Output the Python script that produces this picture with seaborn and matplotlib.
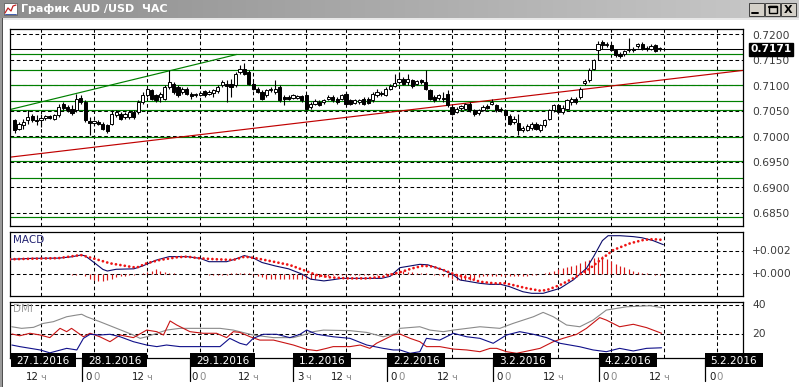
import numpy as np
import pandas as pd
import matplotlib
matplotlib.use("Agg")
import matplotlib.pyplot as plt
import seaborn as sns
from matplotlib.patches import Rectangle
from matplotlib.colors import LinearSegmentedColormap
from matplotlib.transforms import offset_copy

# ---------------- data (hourly AUD/USD candles, bar index 0..146) ----------------
open_ = [0.70318, 0.70155, 0.70220, 0.70318, 0.70396, 0.70331, 0.70318, 0.70370, 0.70396, 0.70350,
         0.70415, 0.70644, 0.70578, 0.70546, 0.70513, 0.70754, 0.70676, 0.70298, 0.70272, 0.70285,
         0.70252, 0.70220, 0.70252, 0.70415, 0.70448, 0.70383, 0.70383, 0.70481, 0.70481, 0.70676,
         0.70807, 0.70904, 0.70807, 0.70774, 0.70741, 0.70970, 0.71035, 0.70970, 0.70872, 0.70937,
         0.70839, 0.70813, 0.70820, 0.70885, 0.70839, 0.70859, 0.70885, 0.71002, 0.71035, 0.71035,
         0.71002, 0.71263, 0.71328, 0.71263, 0.71035, 0.70937, 0.70872, 0.70807, 0.70904, 0.70872,
         0.70970, 0.70774, 0.70774, 0.70754, 0.70754, 0.70794, 0.70807, 0.70578, 0.70644, 0.70676,
         0.70676, 0.70741, 0.70774, 0.70741, 0.70742, 0.70840, 0.70710, 0.70657, 0.70677, 0.70742,
         0.70742, 0.70710, 0.70807, 0.70853, 0.70807, 0.70938, 0.70983, 0.71068, 0.71133, 0.71068,
         0.71101, 0.71036, 0.71114, 0.71068, 0.70918, 0.70775, 0.70762, 0.70762, 0.70840, 0.70579,
         0.70481, 0.70566, 0.70547, 0.70644, 0.70514, 0.70462, 0.70527, 0.70592, 0.70644, 0.70612,
         0.70547, 0.70514, 0.70396, 0.70285, 0.70265, 0.70122, 0.70135, 0.70174, 0.70252, 0.70122,
         0.70220, 0.70350, 0.70513, 0.70611, 0.70481, 0.70546, 0.70676, 0.70741, 0.70774, 0.71048,
         0.71100, 0.71328, 0.71687, 0.71850, 0.71791, 0.71785, 0.71687, 0.71609, 0.71609, 0.71700,
         0.71713, 0.71765, 0.71817, 0.71732, 0.71719, 0.71785, 0.71739]
high = [0.70350, 0.70285, 0.70350, 0.70513, 0.70448, 0.70415, 0.70448, 0.70429, 0.70429, 0.70448,
        0.70644, 0.70676, 0.70611, 0.70611, 0.70839, 0.70807, 0.70709, 0.70383, 0.70318, 0.70318,
        0.70285, 0.70252, 0.70513, 0.70513, 0.70481, 0.70481, 0.70513, 0.70513, 0.70709, 0.70872,
        0.70970, 0.70937, 0.70839, 0.70872, 0.71002, 0.71296, 0.71067, 0.71002, 0.70970, 0.70970,
        0.70872, 0.70859, 0.70885, 0.70904, 0.70904, 0.70937, 0.71002, 0.71100, 0.71100, 0.71133,
        0.71263, 0.71406, 0.71446, 0.71296, 0.71067, 0.70970, 0.70904, 0.70937, 0.70970, 0.71100,
        0.71002, 0.70807, 0.70807, 0.70839, 0.70820, 0.70820, 0.70839, 0.70676, 0.70741, 0.70709,
        0.70741, 0.70807, 0.70807, 0.70774, 0.70840, 0.70873, 0.70742, 0.70742, 0.70742, 0.70775,
        0.70775, 0.70873, 0.70938, 0.70892, 0.70970, 0.71036, 0.71231, 0.71264, 0.71166, 0.71231,
        0.71133, 0.71114, 0.71133, 0.71309, 0.70938, 0.70807, 0.70840, 0.70873, 0.70905, 0.70612,
        0.70579, 0.70612, 0.70657, 0.70677, 0.70547, 0.70547, 0.70612, 0.70644, 0.70742, 0.70644,
        0.70579, 0.70547, 0.70448, 0.70396, 0.70448, 0.70200, 0.70239, 0.70285, 0.70285, 0.70252,
        0.70350, 0.70546, 0.70644, 0.70644, 0.70611, 0.70741, 0.70774, 0.70774, 0.70970, 0.71133,
        0.71348, 0.71524, 0.71882, 0.71895, 0.71850, 0.71830, 0.71719, 0.71654, 0.71700, 0.71935,
        0.71752, 0.71830, 0.71850, 0.71765, 0.71804, 0.71817, 0.71752]
low = [0.70076, 0.70122, 0.70155, 0.70252, 0.70285, 0.70220, 0.70187, 0.70318, 0.70337, 0.70318,
       0.70383, 0.70513, 0.70481, 0.70415, 0.70481, 0.70644, 0.70285, 0.70024, 0.70220, 0.70220,
       0.70122, 0.70076, 0.70220, 0.70383, 0.70318, 0.70350, 0.70350, 0.70350, 0.70448, 0.70644,
       0.70774, 0.70709, 0.70676, 0.70676, 0.70709, 0.70937, 0.70839, 0.70774, 0.70839, 0.70807,
       0.70741, 0.70774, 0.70794, 0.70774, 0.70807, 0.70774, 0.70859, 0.70970, 0.70676, 0.70774,
       0.70970, 0.71230, 0.71198, 0.71002, 0.70904, 0.70859, 0.70709, 0.70774, 0.70872, 0.70839,
       0.70676, 0.70611, 0.70709, 0.70728, 0.70728, 0.70676, 0.70513, 0.70546, 0.70611, 0.70598,
       0.70644, 0.70709, 0.70676, 0.70644, 0.70710, 0.70612, 0.70625, 0.70631, 0.70644, 0.70625,
       0.70631, 0.70677, 0.70775, 0.70788, 0.70788, 0.70905, 0.70970, 0.71036, 0.71003, 0.71003,
       0.70957, 0.71003, 0.71036, 0.70905, 0.70710, 0.70677, 0.70723, 0.70677, 0.70579, 0.70416,
       0.70462, 0.70527, 0.70514, 0.70481, 0.70397, 0.70416, 0.70501, 0.70547, 0.70612, 0.70481,
       0.70481, 0.70384, 0.70220, 0.70239, 0.70024, 0.70089, 0.70109, 0.70135, 0.70122, 0.70089,
       0.70187, 0.70318, 0.70481, 0.70448, 0.70448, 0.70513, 0.70611, 0.70631, 0.70741, 0.71002,
       0.71067, 0.71296, 0.71491, 0.71719, 0.71752, 0.71674, 0.71556, 0.71543, 0.71569, 0.71654,
       0.71654, 0.71739, 0.71687, 0.71674, 0.71687, 0.71654, 0.71674]
close = [0.70122, 0.70252, 0.70285, 0.70383, 0.70318, 0.70305, 0.70363, 0.70396, 0.70370, 0.70415,
         0.70578, 0.70559, 0.70513, 0.70468, 0.70741, 0.70676, 0.70318, 0.70272, 0.70298, 0.70239,
         0.70155, 0.70102, 0.70448, 0.70481, 0.70350, 0.70448, 0.70481, 0.70383, 0.70676, 0.70807,
         0.70937, 0.70741, 0.70709, 0.70839, 0.70970, 0.71067, 0.70872, 0.70807, 0.70937, 0.70839,
         0.70794, 0.70833, 0.70852, 0.70807, 0.70872, 0.70904, 0.70970, 0.71067, 0.70989, 0.70970,
         0.71230, 0.71328, 0.71230, 0.71035, 0.70937, 0.70872, 0.70741, 0.70904, 0.70937, 0.70937,
         0.70709, 0.70741, 0.70741, 0.70807, 0.70794, 0.70709, 0.70546, 0.70644, 0.70689, 0.70624,
         0.70709, 0.70774, 0.70709, 0.70676, 0.70807, 0.70644, 0.70644, 0.70710, 0.70723, 0.70644,
         0.70657, 0.70840, 0.70873, 0.70827, 0.70938, 0.70983, 0.71049, 0.71133, 0.71036, 0.71133,
         0.70983, 0.71088, 0.71068, 0.70938, 0.70742, 0.70723, 0.70807, 0.70736, 0.70612, 0.70449,
         0.70547, 0.70592, 0.70631, 0.70514, 0.70449, 0.70514, 0.70579, 0.70566, 0.70677, 0.70514,
         0.70514, 0.70416, 0.70252, 0.70350, 0.70122, 0.70168, 0.70200, 0.70252, 0.70155, 0.70220,
         0.70318, 0.70513, 0.70611, 0.70481, 0.70565, 0.70709, 0.70741, 0.70676, 0.70937, 0.71087,
         0.71309, 0.71504, 0.71817, 0.71785, 0.71817, 0.71700, 0.71589, 0.71569, 0.71674, 0.71719,
         0.71687, 0.71804, 0.71719, 0.71706, 0.71765, 0.71674, 0.71710]

last_price = 0.7171
level_lines = [0.71609, 0.71306, 0.71003, 0.70696, 0.70528, 0.69996, 0.69517, 0.69179, 0.68422]
price_ticks = [0.7200, 0.7150, 0.7100, 0.7050, 0.7000, 0.6950, 0.6900, 0.6850]
green_trend_bar = [-0.8, 50.3]
green_trend_price = [0.70533, 0.71609]
red_trend_bar = [-1.0, 164.8]
red_trend_price = [0.69595, 0.71296]

macd_bar = [-1, 4, 10, 13, 15, 16, 18, 20, 21, 23, 27, 29, 32, 35, 39, 42, 44, 48, 50, 52, 54, 56,
            59, 62, 65, 67, 70, 72, 74, 83, 85, 87.2, 91.7, 93.5, 97, 99.3, 100.8, 105.3, 107.6,
            110, 112, 115, 117, 119.6, 123.4, 126.4, 129.4, 131, 133, 134.3, 137, 140, 142, 144.5, 146.8]
macd_val = [0.00128, 0.00136, 0.00138, 0.00150, 0.00165, 0.00158, 0.00100, 0.00040, 0.00026, 0.00041,
            0.00045, 0.00070, 0.00120, 0.00151, 0.00151, 0.00136, 0.00107, 0.00107, 0.00130, 0.00160,
            0.00140, 0.00100, 0.00070, 0.00045, 0.00000, -0.00045, -0.00060, -0.00050, -0.00038,
            -0.00038, -0.00020, 0.00055, 0.00084, 0.00080, 0.00035, -0.00009, -0.00052, -0.00081,
            -0.00090, -0.00090, -0.00110, -0.00154, -0.00168, -0.00168, -0.00125, -0.00052, 0.00049,
            0.00150, 0.00290, 0.00333, 0.00333, 0.00325, 0.00315, 0.00290, 0.00255]
signal_bar = [-1, 4, 10, 15, 17.8, 21.6, 26.1, 27.6, 29.9, 32.9, 36.7, 39, 42, 45.7, 49.5, 52.1, 54.8,
              58.6, 62.3, 65.3, 68.4, 71.4, 75.2, 79.7, 83.4, 87.2, 90, 92.5, 94.7, 97, 100, 103,
              105.3, 108.5, 111, 112.8, 116, 118.9, 120.4, 123.4, 126.4, 130.2, 133, 135.5, 139.3,
              142.3, 144.5, 146.8]
signal_val = [0.00128, 0.00133, 0.00138, 0.00165, 0.00136, 0.00093, 0.00064, 0.00055, 0.00093, 0.00122,
              0.00145, 0.00151, 0.00136, 0.00128, 0.00122, 0.00151, 0.00136, 0.00107, 0.00078, 0.00035,
              -0.00009, -0.00029, -0.00038, -0.00038, -0.00023, 0.00015, 0.00049, 0.00072, 0.00064,
              0.00035, -0.00009, -0.00038, -0.00067, -0.00081, -0.00081, -0.00096, -0.00125, -0.00145,
              -0.00140, -0.00096, -0.00038, 0.00049, 0.00136, 0.00209, 0.00267, 0.00296, 0.00303, 0.00296]
macd_hist = [0, 0, 0, 0, 0, 0, 0, 0, 0, 0,
             0, 0, 0, -0.00005, -0.00005, 0, -0.0002, -0.0004, -0.0005, -0.0006,
             -0.0006, -0.0005, -0.0004, -0.0003, -0.0002, -0.00015, -0.0001, -0.0001, 0, 0.0001,
             0.0002, 0.0003, 0.0004, 0.0003, 0.0002, 0.0001, 0.00005, 0, 0, 0,
             0, 0, 0, 0, -0.00005, -0.00005, -0.00005, -0.00005, -0.00005, 0.00005,
             0.00005, 0.00005, 0.00005, 0.00005, -0.0001, -0.0002, -0.0003, -0.0004, -0.0004, -0.0004,
             -0.0004, -0.0004, -0.0004, -0.0004, -0.0004, -0.0004, -0.0004, -0.0004, -0.0004, -0.0003,
             -0.0003, -0.0002, -0.0001, -0.0001, -0.00005, -0.00005, -0.00005, -0.00005, -0.00005, -0.00005,
             -0.00005, -0.00005, -0.00005, 0, 0.0001, 0.0001, 0.0002, 0.0003, 0.0003, 0.0002,
             0.0002, 0.0001, 0.0001, 0.0001, 0, -0.0001, -0.0001, -0.0002, -0.0003, -0.0004,
             -0.0005, -0.0005, -0.0005, -0.0005, -0.0004, -0.0003, -0.0002, -0.0002, -0.0002, -0.0002,
             -0.0002, -0.0002, -0.0002, -0.0002, -0.0002, -0.0002, -0.0002, -0.0001, -0.0001, 0,
             0.0001, 0.0002, 0.0003, 0.0004, 0.0005, 0.0006, 0.0007, 0.0008, 0.0010, 0.0011,
             0.0012, 0.0014, 0.0015, 0.0016, 0.0013, 0.0011, 0.0009, 0.0007, 0.0006, 0.0004,
             0.0003, 0.0002, 0.0001, 0.0001, 0, -0.0001, -0.0001]

adx_bar = [-0.6, 1.6, 4.3, 6.5, 8.8, 11.8, 14.1, 15.2, 16.3, 19.3, 23.1, 26.9, 28.4, 29.9, 32.2, 34.4,
           37.4, 42, 46.5, 49.5, 54, 58.6, 63.1, 65.3, 67.6, 69.9, 75.9, 79.7, 83.4, 86.5, 87.2, 91.7,
           94, 97, 99.3, 105.3, 109.8, 112.8, 117.4, 119.6, 121.9, 124.9, 127.9, 130.9, 133.9, 138.5,
           143.8, 146.4]
adx_val = [25.0, 23.9, 24.6, 27.3, 28.5, 31.9, 33.1, 33.6, 31.9, 28.5, 23.9, 19.3, 17.0, 18.1, 20.5,
           22.7, 23.9, 23.9, 23.9, 22.7, 19.3, 17.5, 17.5, 19.3, 21.6, 22.7, 22.3, 21.1, 18.1, 20.5,
           23.9, 25.0, 22.7, 21.6, 22.7, 25.0, 23.9, 27.3, 31.9, 34.9, 31.9, 26.2, 25.0, 29.6, 36.5,
           38.8, 39.5, 38.2]
pdi_bar = [-0.6, 1.2, 3.5, 5.8, 8, 10.3, 11.8, 12.9, 15.6, 17.1, 19.3, 21.6, 23.9, 26.9, 29.9, 32.2,
           33.7, 35.2, 36.7, 39.7, 42.7, 45.7, 48, 49.5, 51, 53.3, 55.5, 58.6, 63.1, 66.1, 68.4, 70.6,
           72.1, 75.9, 78.2, 80.4, 81.9, 85.7, 87.2, 89.5, 91.7, 93.2, 96.2, 99.3, 102.3, 105.3, 107.6,
           109.1, 111.3, 113.6, 118.9, 121.9, 124.1, 127.2, 129.4, 132.4, 133.9, 136.9, 140, 143, 146.4]
pdi_val = [20.0, 18.8, 20.5, 19.3, 17.5, 23.9, 21.6, 23.9, 18.1, 20.5, 18.1, 14.7, 19.3, 17.5, 22.7,
           21.6, 19.3, 29.0, 26.2, 21.6, 20.5, 20.5, 17.5, 21.6, 21.1, 18.1, 15.8, 15.8, 12.4, 9.4, 8.5,
           10.1, 11.3, 11.3, 12.4, 10.1, 13.6, 19.3, 20.0, 17.0, 14.7, 11.3, 11.3, 9.6, 9.0, 7.8, 10.1,
           10.1, 7.8, 6.7, 10.1, 14.7, 17.0, 19.8, 23.9, 31.3, 29.6, 25.0, 26.7, 24.4, 20.5]
mdi_bar = [-0.6, 1.2, 5.8, 8, 11.8, 14.1, 15.6, 17.1, 19.3, 21.6, 23.9, 26.9, 29.9, 32.2, 34.4, 37.4,
           42, 46.5, 48.7, 51, 52.5, 54, 56.3, 59.3, 62.3, 64.6, 66.1, 68.4, 72.1, 75.9, 79.7, 83.4,
           85.7, 87.2, 89.5, 91.7, 93.2, 96.2, 99.3, 102.3, 105.3, 108.3, 111.3, 114.3, 117.4, 120.4,
           123.4, 127.9, 130.9, 133.9, 136.9, 140, 143, 146.4]
mdi_val = [12.4, 11.3, 9.0, 7.0, 10.1, 9.0, 17.0, 19.8, 19.3, 19.8, 18.1, 14.7, 12.4, 11.3, 12.4,
           11.3, 11.3, 11.3, 17.0, 13.6, 12.4, 17.0, 19.8, 19.8, 17.5, 19.8, 22.7, 19.8, 18.1, 17.0,
           12.4, 10.1, 9.0, 9.0, 6.7, 7.8, 17.0, 15.8, 20.5, 18.1, 17.0, 13.6, 19.3, 21.6, 19.8, 17.5,
           13.6, 11.2, 9.0, 7.8, 10.1, 8.3, 10.1, 10.5]

grid_bars = [6, 18, 30, 42, 54, 66, 75, 87, 99, 111, 123, 135, 147, 159]
time_main = ['12', '0', '12', '0', '12', '3', '12', '0', '12', '0', '12', '0', '12', '0']
time_suffix = ['ч', '0', 'ч', '0', 'ч', 'ч', 'ч', '0', 'ч', '0', 'ч', '0', 'ч', '0']
day_labels = ['27.1.2016', '28.1.2016', '29.1.2016', '1.2.2016', '2.2.2016',
              '3.2.2016', '4.2.2016', '5.2.2016']
day_start_bars = [-8.7, 15.3, 39.7, 63.0, 84.3, 108.3, 132.2, 156.2]

# ---------------- layout ----------------
sns.set_theme(style="white")
plt.rcParams['font.family'] = ['DejaVu Sans']

W, H = 799, 387
fig = plt.figure(figsize=(W / 100, H / 100), dpi=100)
fig.patch.set_facecolor('white')

X0, DX = 14.5, 4.42          # pixel of bar 0, pixels per bar
PY0, PPX = 34.5, 5100.0       # pixel row of 0.7200, pixels per price unit


def bar_to_px(b):
    return X0 + DX * b


def px_to_bar(px):
    return (px - X0) / DX


def add_ax(x0, y0, x1, y1, z):
    a = fig.add_axes([x0 / W, 1 - y1 / H, (x1 - x0) / W, (y1 - y0) / H])
    a.set_zorder(z)
    return a


# background chrome
bg = fig.add_axes([0, 0, 1, 1])
bg.set_zorder(0)
cm = LinearSegmentedColormap.from_list('tb', ['#8e8e8e', '#c9c9c9'])
bg.imshow(np.linspace(0, 1, 300).reshape(1, -1), cmap=cm, extent=(0, W, 18, 0), aspect='auto')
bg.set_xlim(0, W)
bg.set_ylim(H, 0)
bg.axis('off')
bg.add_patch(Rectangle((0, 18), W, 2, fc='#e8e8e8', ec='none'))
bg.add_patch(Rectangle((0, 18), 2, H - 18, fc='#9a9a9a', ec='none'))
bg.add_patch(Rectangle((2, 18), 1.2, H - 18, fc='#505050', ec='none'))
# icon
bg.add_patch(Rectangle((4, 3), 13, 12, fc='white', ec='#606060', lw=0.6))
bg.plot([5, 8, 11, 13, 16], [13, 8, 11, 6, 5], color='#c02020', lw=0.9)
bg.plot([5, 16], [13.5, 13.5], color='#2040a0', lw=0.6)
bg.text(21, 9, 'График AUD /USD  ЧАС', color='white', fontsize=8, fontweight='bold',
        va='center', ha='left')
# window buttons
for bx in [749, 765, 781]:
    bg.add_patch(Rectangle((bx, 3), 15, 13, fc='#d4d0c8', ec='#404040', lw=0.7))
bg.plot([752, 758], [13, 13], color='black', lw=1.4)
bg.add_patch(Rectangle((768.5, 6), 8, 7, fc='none', ec='black', lw=1.0))
bg.plot([768.5, 776.5], [6.6, 6.6], color='black', lw=1.6)
bg.text(788.5, 9.8, 'X', fontsize=8, fontweight='bold', ha='center', va='center', color='black')

xlim = (px_to_bar(10), px_to_bar(743))
dash = (0, (3.5, 2.5))

# ---------------- main price panel ----------------
ax = add_ax(10, 29, 743, 226, 1)
ax.set_facecolor('white')
ax.set_xlim(*xlim)
ax.set_ylim(0.72 - (226 - PY0) / PPX, 0.72 + (PY0 - 29) / PPX)

for p in price_ticks:
    ax.axhline(p, color='black', lw=0.75, ls=dash, zorder=1)
for b in grid_bars:
    ax.axvline(b, color='black', lw=0.75, ls=dash, zorder=1)
for lv in level_lines:
    ax.axhline(lv, color='#008000', lw=0.85, zorder=2)
ax.axhline(last_price, color='black', lw=0.75, zorder=2)

sns.lineplot(x=green_trend_bar, y=green_trend_price, ax=ax, color='#008000', lw=0.85,
             errorbar=None, legend=False, zorder=2)
sns.lineplot(x=red_trend_bar, y=red_trend_price, ax=ax, color='#c00000', lw=0.85,
             errorbar=None, legend=False, zorder=2)

df = pd.DataFrame({'bar': np.arange(len(close)), 'open': open_, 'high': high,
                   'low': low, 'close': close})
ax.vlines(df['bar'], df['low'], df['high'], color='black', lw=0.8, zorder=3)
for _, r in df.iterrows():
    lo = min(r['open'], r['close'])
    h = max(abs(r['close'] - r['open']), 0.00001)
    fc = 'white' if r['close'] >= r['open'] else 'black'
    ax.add_patch(Rectangle((r['bar'] - 0.36, lo), 0.72, h, fc=fc, ec='black', lw=0.7, zorder=4))

ytrans = ax.get_yaxis_transform()
for p in price_ticks:
    ax.text(1.0123, p, f'{p:.4f}', transform=offset_copy(ytrans, fig=fig, y=-1.5, units='dots'),
            fontsize=7.7, color='#3a3a3a', va='center', ha='left', clip_on=False)
ax.text(1.0105, last_price, f'{last_price:.4f}', transform=ytrans, fontsize=7.7, color='white',
        fontweight='bold', va='center', ha='left', clip_on=False,
        bbox=dict(boxstyle='square,pad=0.12', fc='black', ec='black'))

# ---------------- MACD panel ----------------
mac = add_ax(10, 232, 743, 296, 1)
mac.set_facecolor('white')
mac.set_xlim(*xlim)
mac.set_ylim(-22 / 11500, 42 / 11500)
for v in [0.0, 0.002]:
    mac.axhline(v, color='black', lw=0.75, ls=dash, zorder=1)
for b in grid_bars:
    mac.axvline(b, color='black', lw=0.75, ls=dash, zorder=1)
mac.vlines(np.arange(len(macd_hist)), 0, macd_hist, color='#d81818', lw=0.85, zorder=2)
sns.lineplot(x=macd_bar, y=macd_val, ax=mac, color='#0a0a6a', lw=0.8, errorbar=None,
             legend=False, zorder=3)
sns.lineplot(x=signal_bar, y=signal_val, ax=mac, color='#ee1414', lw=2.0, errorbar=None,
             legend=False, zorder=4, linestyle=(0, (0.01, 1.6)), dash_capstyle='round')
mac.text(0.004, 0.875, 'MACD', transform=mac.transAxes, fontsize=7.5, color='#202070',
         va='center', ha='left')
ytm = mac.get_yaxis_transform()
for v, s in [(0.002, '+0.002'), (0.0, '+0.000')]:
    mac.text(1.0123, v, s, transform=ytm, fontsize=7.7, color='#3a3a3a', va='center',
             ha='left', clip_on=False)

# ---------------- DMI panel ----------------
dmi = add_ax(10, 302, 743, 358, 1)
dmi.set_facecolor('white')
dmi.set_xlim(*xlim)
dmi.set_ylim(5 / 1.45, 61 / 1.45)
for v in [20, 40]:
    dmi.axhline(v, color='black', lw=0.75, ls=dash, zorder=1)
for b in grid_bars:
    dmi.axvline(b, color='black', lw=0.75, ls=dash, zorder=1)
sns.lineplot(x=adx_bar, y=adx_val, ax=dmi, color='#8a8a8a', lw=0.8, errorbar=None,
             legend=False, zorder=2)
sns.lineplot(x=pdi_bar, y=pdi_val, ax=dmi, color='#c81414', lw=0.8, errorbar=None,
             legend=False, zorder=3)
sns.lineplot(x=mdi_bar, y=mdi_val, ax=dmi, color='#10108a', lw=0.8, errorbar=None,
             legend=False, zorder=3)
dmi.text(0.004, 0.875, 'DMI', transform=dmi.transAxes, fontsize=7.5, color='#a0a0a0',
         va='center', ha='left')
ytd = dmi.get_yaxis_transform()
for v in [40, 20]:
    dmi.text(1.0123, v, str(v), transform=ytd, fontsize=7.7, color='#3a3a3a', va='center',
             ha='left', clip_on=False)

for a in (ax, mac, dmi):
    a.set_xticks([])
    a.set_yticks([])
    a.set_xlabel('')
    a.set_ylabel('')
    for sp in a.spines.values():
        sp.set_color('black')
        sp.set_linewidth(0.9)
        sp.set_visible(True)

# ---------------- time scale (foreground overlay) ----------------
fg = fig.add_axes([0, 0, 1, 1])
fg.set_zorder(5)
fg.patch.set_alpha(0)
fg.set_xlim(0, W)
fg.set_ylim(H, 0)
fg.axis('off')

for lab, sb in zip(day_labels, day_start_bars):
    sx = bar_to_px(sb)
    left = max(sx, 10.5)
    if sx >= 10:
        fg.plot([sx, sx], [358, 381], color='black', lw=0.9)
    wbox = 7 * len(lab) + 2
    fg.add_patch(Rectangle((left, 353), wbox, 14, fc='black', ec='none'))
    fg.text(left + wbox / 2, 360.5, lab, color='white', fontsize=7.6, ha='center', va='center')

for b, m, s in zip(grid_bars, time_main, time_suffix):
    gx = bar_to_px(b)
    fg.text(gx - 2, 377, m, color='#1a1a1a', fontsize=7.4, ha='right', va='center')
    fg.text(gx - 1, 377.5, s, color='#8a8a8a', fontsize=6.8 if s == 'ч' else 7.4,
            ha='left', va='center')

fig.savefig('out.png', dpi=100)
